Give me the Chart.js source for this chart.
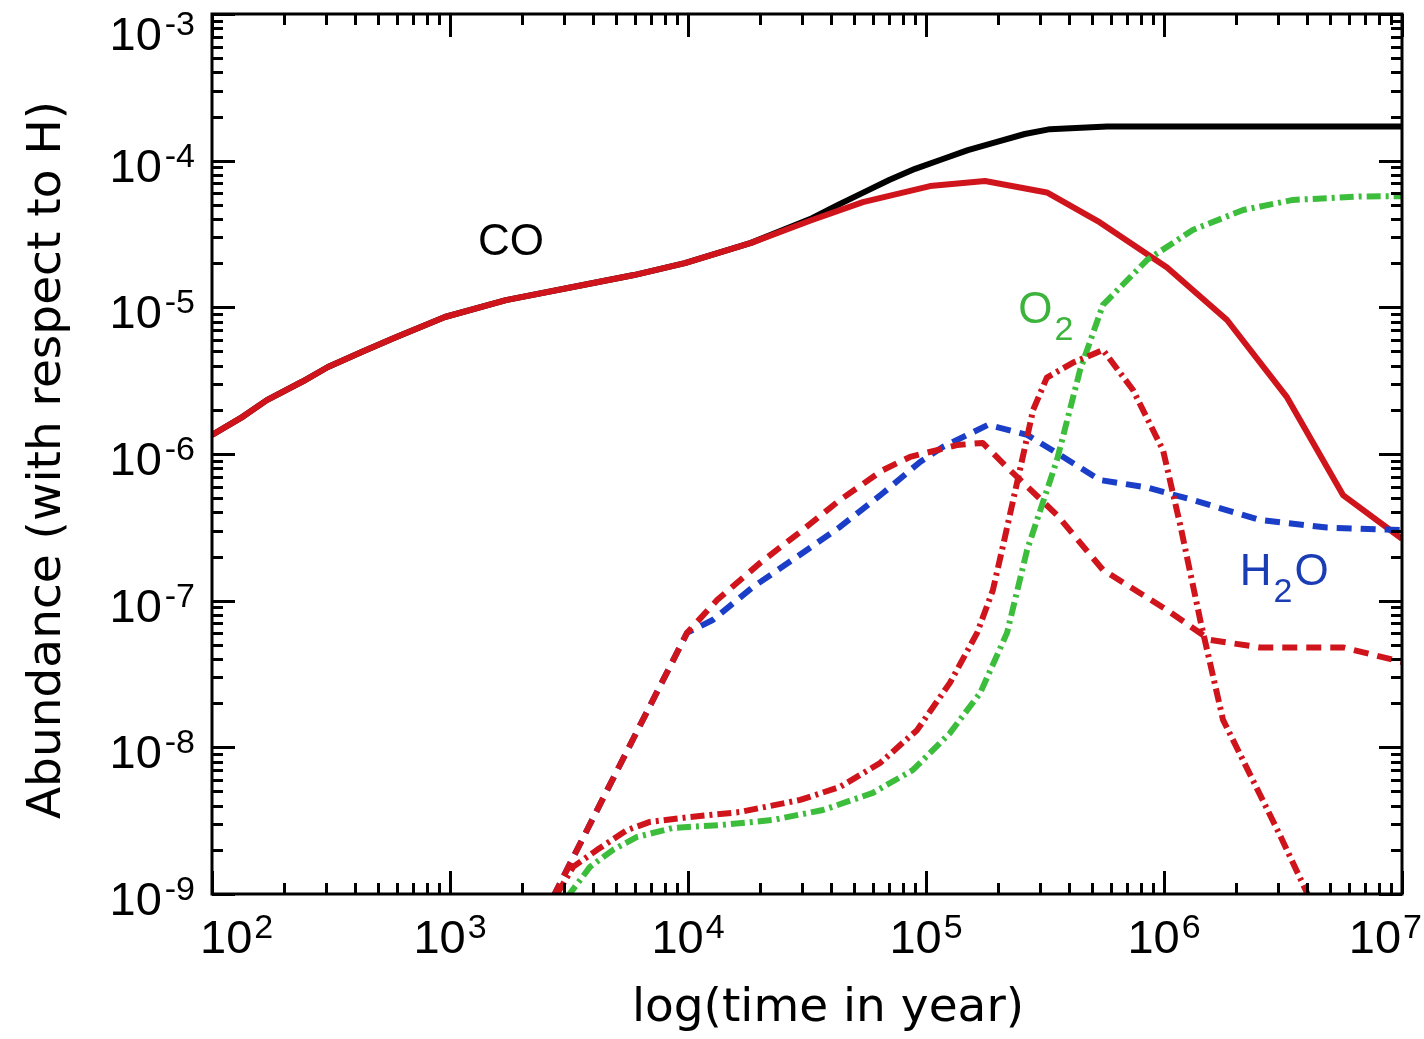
<!DOCTYPE html>
<html>
<head>
<meta charset="utf-8">
<script src="https://cdn.jsdelivr.net/npm/chart.js@4.4.1/dist/chart.umd.min.js"></script>
<style>
    html, body { margin: 0; padding: 0; background: #fff; }
    canvas { display: block; }
</style>
</head>
<body>
<canvas id="abundanceChart" width="1424" height="1039"></canvas>
<script>
// time in years, abundances w.r.t. H
const coTotalTime = [100, 135, 170, 240, 307, 430, 582, 952, 1718, 3622, 5929, 9700, 1.84e4, 3.32e4, 4.27e4, 5.5e4, 7.0e4, 9.0e4, 1.146e5, 1.5e5, 1.97e5, 2.6e5, 3.32e5, 5.77e5, 1e7];
const coTotal     = [1.35e-6, 1.8e-6, 2.33e-6, 3.12e-6, 3.92e-6, 5.0e-6, 6.18e-6, 8.59e-6, 1.12e-5, 1.42e-5, 1.66e-5, 2.0e-5, 2.75e-5, 4.05e-5, 4.99e-5, 6.1e-5, 7.38e-5, 8.8e-5, 1.01e-4, 1.18e-4, 1.34e-4, 1.52e-4, 1.64e-4, 1.71e-4, 1.71e-4];

const coGasTime = [100, 135, 170, 240, 307, 430, 582, 952, 1718, 3622, 5929, 9700, 1.84e4, 3.32e4, 5.43e4, 1.04e5, 1.77e5, 3.22e5, 5.38e5, 1.03e6, 1.84e6, 3.29e6, 5.65e6, 1e7];
const coGas     = [1.35e-6, 1.8e-6, 2.33e-6, 3.12e-6, 3.92e-6, 5.0e-6, 6.18e-6, 8.59e-6, 1.12e-5, 1.42e-5, 1.66e-5, 2.0e-5, 2.75e-5, 3.94e-5, 5.22e-5, 6.71e-5, 7.26e-5, 6.07e-5, 3.79e-5, 1.87e-5, 8.2e-6, 2.43e-6, 5.25e-7, 2.64e-7];

const h2oTotalTime = [2710, 5176, 9908, 1.27e4, 1.875e4, 2.87e4, 4.35e4, 6.6e4, 9.44e4, 1.18e5, 1.82e5, 2.66e5, 3.66e5, 5.38e5, 8.48e5, 1.32e6, 2.53e6, 4.84e6, 1e7];
const h2oTotal     = [9.5e-10, 7.58e-9, 6.03e-8, 7.38e-8, 1.24e-7, 1.99e-7, 3.18e-7, 5.42e-7, 8.83e-7, 1.12e-6, 1.58e-6, 1.35e-6, 9.85e-7, 6.65e-7, 5.91e-7, 4.86e-7, 3.55e-7, 3.15e-7, 3.03e-7];

const h2oGasTime = [2710, 5176, 9908, 1.325e4, 2.01e4, 2.96e4, 4.35e4, 6.6e4, 8.57e4, 1.35e5, 1.73e5, 2.25e5, 3.55e5, 5.54e5, 1.03e6, 1.56e6, 2.53e6, 5.65e6, 1e7];
const h2oGas     = [9.5e-10, 7.58e-9, 6.03e-8, 1.01e-7, 1.81e-7, 2.94e-7, 4.86e-7, 7.78e-7, 9.55e-7, 1.15e-6, 1.19e-6, 7.78e-7, 3.84e-7, 1.62e-7, 8.63e-8, 5.4e-8, 4.8e-8, 4.8e-8, 3.82e-8];

const o2TotalTime = [3105, 3873, 4842, 6109, 8650, 1.40e4, 2.28e4, 3.69e4, 5.98e4, 8.81e4, 1.26e5, 1.69e5, 2.19e5, 2.66e5, 3.55e5, 4.44e5, 5.54e5, 8.48e5, 1.32e6, 2.15e6, 3.48e6, 6.67e6, 1e7];
const o2Total     = [9.5e-10, 1.53e-9, 2.0e-9, 2.45e-9, 2.82e-9, 2.96e-9, 3.2e-9, 3.74e-9, 4.89e-9, 7.01e-9, 1.25e-8, 2.35e-8, 6.03e-8, 2.22e-7, 9.1e-7, 3.74e-6, 1.04e-5, 2.1e-5, 3.37e-5, 4.61e-5, 5.4e-5, 5.7e-5, 5.72e-5];

const o2GasTime = [2818, 3289, 4150, 5546, 6918, 1.02e4, 1.65e4, 2.96e4, 4.35e4, 6.41e4, 9.17e4, 1.26e5, 1.64e5, 1.91e5, 2.11e5, 2.48e5, 2.82e5, 3.22e5, 4.15e5, 5.54e5, 7.41e5, 9.91e5, 1.17e6, 1.42e6, 1.77e6, 2.36e6, 3.07e6, 4.31e6];
const o2Gas     = [1.0e-9, 1.53e-9, 2.0e-9, 2.73e-9, 3.1e-9, 3.35e-9, 3.62e-9, 4.38e-9, 5.37e-9, 7.82e-9, 1.31e-8, 2.75e-8, 6.03e-8, 1.18e-7, 2.4e-7, 7.78e-7, 2.0e-6, 3.32e-6, 4.2e-6, 5.12e-6, 2.73e-6, 1.06e-6, 3.28e-7, 7.38e-8, 1.54e-8, 5.99e-9, 2.52e-9, 7.8e-10];

// axis decades
const xDecades = [2, 3, 4, 5, 6, 7];
const yDecades = [-9, -8, -7, -6, -5, -4, -3];

// species labels: anchor (time, abundance) is the left end of the text baseline
const speciesLabels = [
    { parts: [['CO', 'n']], t: 1.31e3, v: 2.28e-5, color: '#000000' },
    { parts: [['O', 'n'], ['2', 's']], t: 2.44e5, v: 7.82e-6, color: '#3cb43c' },
    { parts: [['H', 'n'], ['2', 's'], ['O', 'n']], t: 2.08e6, v: 1.28e-7, color: '#1a3cb4' }
];

const RED = '#d0141c';
const BLUE = '#1a3ec8';
const GREEN = '#3cbe3c';
const AXIS_FONT = '"DejaVu Sans", sans-serif';
const TICK_FONT = '"Liberation Sans", Arial, sans-serif';
const LABEL_FONT = '"Liberation Sans", Arial, sans-serif';

function pts(times, vals) {
    return times.map((t, i) => ({ x: t, y: vals[i] }));
}

function line(data, color, width, dash, order) {
    return {
        data: data,
        borderColor: color,
        borderWidth: width,
        borderDash: dash,
        borderCapStyle: 'butt',
        borderJoinStyle: 'round',
        pointRadius: 0,
        tension: 0,
        fill: false,
        clip: 0,
        order: order
    };
}

const idlAxes = {
    id: 'idlAxes',
    afterDatasetsDraw(chart) {
        const ctx = chart.ctx;
        const xs = chart.scales.x, ys = chart.scales.y;
        ctx.save();
        ctx.textBaseline = 'alphabetic';
        ctx.textAlign = 'left';
        speciesLabels.forEach(lab => {
            let px = xs.getPixelForValue(lab.t);
            const py = ys.getPixelForValue(lab.v);
            ctx.fillStyle = lab.color;
            lab.parts.forEach(([txt, kind]) => {
                if (kind === 's') {
                    ctx.font = '34px ' + LABEL_FONT;
                    ctx.fillText(txt, px + 2, py + 17);
                    px += ctx.measureText(txt).width + 4;
                } else {
                    ctx.font = '44px ' + LABEL_FONT;
                    ctx.fillText(txt, px, py);
                    px += ctx.measureText(txt).width;
                }
            });
        });
        ctx.restore();
    },
    afterDraw(chart) {
        const ctx = chart.ctx;
        const area = chart.chartArea;
        const xs = chart.scales.x, ys = chart.scales.y;
        const majorLen = 23, minorLen = 11;

        ctx.save();
        ctx.strokeStyle = '#000';
        ctx.lineWidth = 3;
        ctx.lineCap = 'butt';
        ctx.strokeRect(area.left, area.top, area.right - area.left, area.bottom - area.top);

        ctx.beginPath();
        // x ticks (bottom and top, pointing inward)
        xDecades.forEach(d => {
            for (let m = 1; m <= 9; m++) {
                const v = m * Math.pow(10, d);
                if (v > xs.max * 1.0001) break;
                const px = Math.round(xs.getPixelForValue(v)) + 0.5;
                const len = m === 1 ? majorLen : minorLen;
                ctx.moveTo(px, area.bottom);
                ctx.lineTo(px, area.bottom - len);
                ctx.moveTo(px, area.top);
                ctx.lineTo(px, area.top + len);
            }
        });
        // y ticks (left and right, pointing inward)
        yDecades.forEach(d => {
            for (let m = 1; m <= 9; m++) {
                const v = m * Math.pow(10, d);
                if (v > ys.max * 1.0001) break;
                const py = Math.round(ys.getPixelForValue(v)) + 0.5;
                const len = m === 1 ? majorLen : minorLen;
                ctx.moveTo(area.left, py);
                ctx.lineTo(area.left + len, py);
                ctx.moveTo(area.right, py);
                ctx.lineTo(area.right - len, py);
            }
        });
        ctx.stroke();

        // tick labels as 10^n
        ctx.fillStyle = '#000';
        ctx.textBaseline = 'alphabetic';
        ctx.textAlign = 'left';
        const baseFont = '47px ' + TICK_FONT;
        const expFont = '34px ' + TICK_FONT;

        xDecades.forEach(d => {
            ctx.font = baseFont;
            const wBase = ctx.measureText('10').width;
            ctx.font = expFont;
            const wExp = ctx.measureText(String(d)).width;
            const total = wBase + 2 + wExp;
            let cx = xs.getPixelForValue(Math.pow(10, d));
            cx = Math.max(cx, area.left - 12 + total / 2);
            cx = Math.min(cx, area.right + 20 - total / 2);
            const x0 = cx - total / 2;
            ctx.font = baseFont;
            ctx.fillText('10', x0, area.bottom + 59);
            ctx.font = expFont;
            ctx.fillText(String(d), x0 + wBase + 2, area.bottom + 44);
        });

        yDecades.forEach(d => {
            const py = ys.getPixelForValue(Math.pow(10, d));
            const shift = Math.max(0, area.top + 15 - py);
            const right = area.left - 17;
            ctx.font = expFont;
            const expText = String(d);
            const wExp = ctx.measureText(expText).width;
            ctx.fillText(expText, right - wExp, py + 6 + shift);
            ctx.font = baseFont;
            const wBase = ctx.measureText('10').width;
            ctx.fillText('10', right - wExp - 3 - wBase, py + 21 + shift);
        });

        // axis titles
        ctx.font = '47px ' + AXIS_FONT;
        ctx.textAlign = 'center';
        ctx.fillText('log(time in year)', 828, 1021);
        ctx.translate(60, 460);
        ctx.rotate(-Math.PI / 2);
        ctx.fillText('Abundance (with respect to H)', 0, 0);
        ctx.restore();
    }
};

new Chart(document.getElementById('abundanceChart'), {
    type: 'line',
    data: {
        datasets: [
            line(pts(coTotalTime, coTotal), '#000000', 6, [], 6),
            line(pts(coGasTime, coGas), RED, 6, [], 5),
            line(pts(h2oTotalTime, h2oTotal), BLUE, 6, [15, 9], 4),
            line(pts(h2oGasTime, h2oGas), RED, 6, [15, 9], 3),
            line(pts(o2TotalTime, o2Total), GREEN, 6, [14, 5, 3, 5], 2),
            line(pts(o2GasTime, o2Gas), RED, 6, [14, 5, 3, 5], 1)
        ]
    },
    options: {
        responsive: false,
        animation: false,
        devicePixelRatio: 1,
        layout: { padding: { left: 212, right: 22, top: 14, bottom: 145 } },
        plugins: {
            legend: { display: false },
            tooltip: { enabled: false }
        },
        scales: {
            x: { type: 'logarithmic', min: 1e2, max: 1e7, display: false },
            y: { type: 'logarithmic', min: 1e-9, max: 1e-3, display: false }
        }
    },
    plugins: [idlAxes]
});
</script>
</body>
</html>
